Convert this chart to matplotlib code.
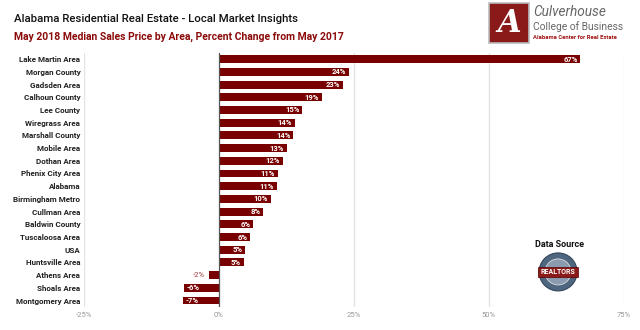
import matplotlib.pyplot as plt
from matplotlib.patches import Rectangle, Circle

plt.rcParams['font.family'] = ['Roboto', 'DejaVu Sans']

# data
areas = ["Lake Martin Area", "Morgan County", "Gadsden Area", "Calhoun County", "Lee County",
         "Wiregrass Area", "Marshall County", "Mobile Area", "Dothan Area", "Phenix City Area",
         "Alabama", "Birmingham Metro", "Cullman Area", "Baldwin County", "Tuscaloosa Area",
         "USA", "Huntsville Area", "Athens Area", "Shoals Area", "Montgomery Area"]
pct_change = [66.9, 24.0, 22.9, 19.0, 15.4, 14.0, 13.8, 12.6, 11.8, 10.9,
              10.7, 9.6, 8.2, 6.4, 5.8, 4.9, 4.6, -1.8, -6.4, -6.6]
xticks = [-25, 0, 25, 50, 75]

bar_color = '#780000'

fig = plt.figure(figsize=(6.4, 3.3), dpi=100)
ax = fig.add_axes([0.131, 0.07, 0.844, 0.77])

ypos = list(range(len(areas)))
ax.barh(ypos, pct_change, height=0.62, color=bar_color, zorder=3)

# value labels
for y, v in zip(ypos, pct_change):
    lab = f"{round(v):d}%"
    if abs(v) >= 3:
        if v > 0:
            ax.text(v - 0.5, y, lab, ha='right', va='center', color='white',
                    fontsize=5.5, fontweight='bold', zorder=4)
        else:
            ax.text(v + 0.5, y, lab, ha='left', va='center', color='white',
                    fontsize=5.5, fontweight='bold', zorder=4)
    else:
        ax.text(v - 0.8, y, lab, ha='right', va='center', color='#a04040',
                fontsize=5.5, zorder=4)

ax.set_ylim(len(areas) - 0.5, -0.5)
ax.set_xlim(-25, 75)
ax.set_yticks(ypos)
ax.set_yticklabels(areas, fontsize=5.8, fontweight='bold', color='#222222')
ax.set_xticks(xticks)
ax.set_xticklabels([f"{t}%" for t in xticks], fontsize=5.5, color='#999999')
ax.tick_params(length=0, pad=4)
ax.tick_params(axis='y', pad=2.5)
for s in ax.spines.values():
    s.set_visible(False)
for t in xticks:
    if t == 0:
        ax.axvline(0, color='#555555', lw=0.9, zorder=5)
    else:
        ax.axvline(t, color='#e2e2e2', lw=0.9, zorder=1)

# titles
fig.text(0.022, 0.942, "Alabama Residential Real Estate - Local Market Insights",
         fontsize=8.2, fontweight='medium', color='#111111', va='center')
fig.text(0.022, 0.888, "May 2018 Median Sales Price by Area, Percent Change from May 2017",
         fontsize=7.5, fontweight='bold', color='#8b0a0a', va='center')

# Culverhouse logo
fig.patches.append(Rectangle((0.764, 0.870), 0.0625, 0.121, transform=fig.transFigure,
                             facecolor='#8a1a1a', edgecolor='#bbbbbb', lw=1.2))
fig.text(0.795, 0.930, "A", fontsize=22, family='DejaVu Serif', fontstyle='italic',
         fontweight='bold', color='white', ha='center', va='center')
fig.text(0.833, 0.963, "Culverhouse", fontsize=9.8, fontstyle='italic', color='#666666', va='center')
fig.text(0.833, 0.920, "College of Business", fontsize=7.4, color='#666666', va='center')
fig.text(0.833, 0.886, "Alabama Center for Real Estate", fontsize=4.2, color='#a01010',
         fontweight='bold', va='center')

# data source badge
fig.text(0.874, 0.26, "Data Source", fontsize=6.5, fontweight='bold', color='#111111',
         ha='center', va='center')
bx, by = 0.872, 0.176
fig.patches.append(Circle((bx * 640, by * 330), 19, transform=None,
                          facecolor='#4f6680', edgecolor='#33475c', lw=0.8))
fig.patches.append(Circle((bx * 640, by * 330), 13, transform=None,
                          facecolor='#8a9bb0', edgecolor='#dddddd', lw=0.6))
fig.patches.append(Rectangle((bx * 640 - 20, by * 330 - 5), 40, 10, transform=None,
                             facecolor='#8b1a1a', edgecolor='#5a0000', lw=0.5))
fig.text(bx, by, "REALTORS", fontsize=5, fontweight='bold', color='white',
         ha='center', va='center')

fig.savefig('out.png', dpi=100, facecolor='white')
